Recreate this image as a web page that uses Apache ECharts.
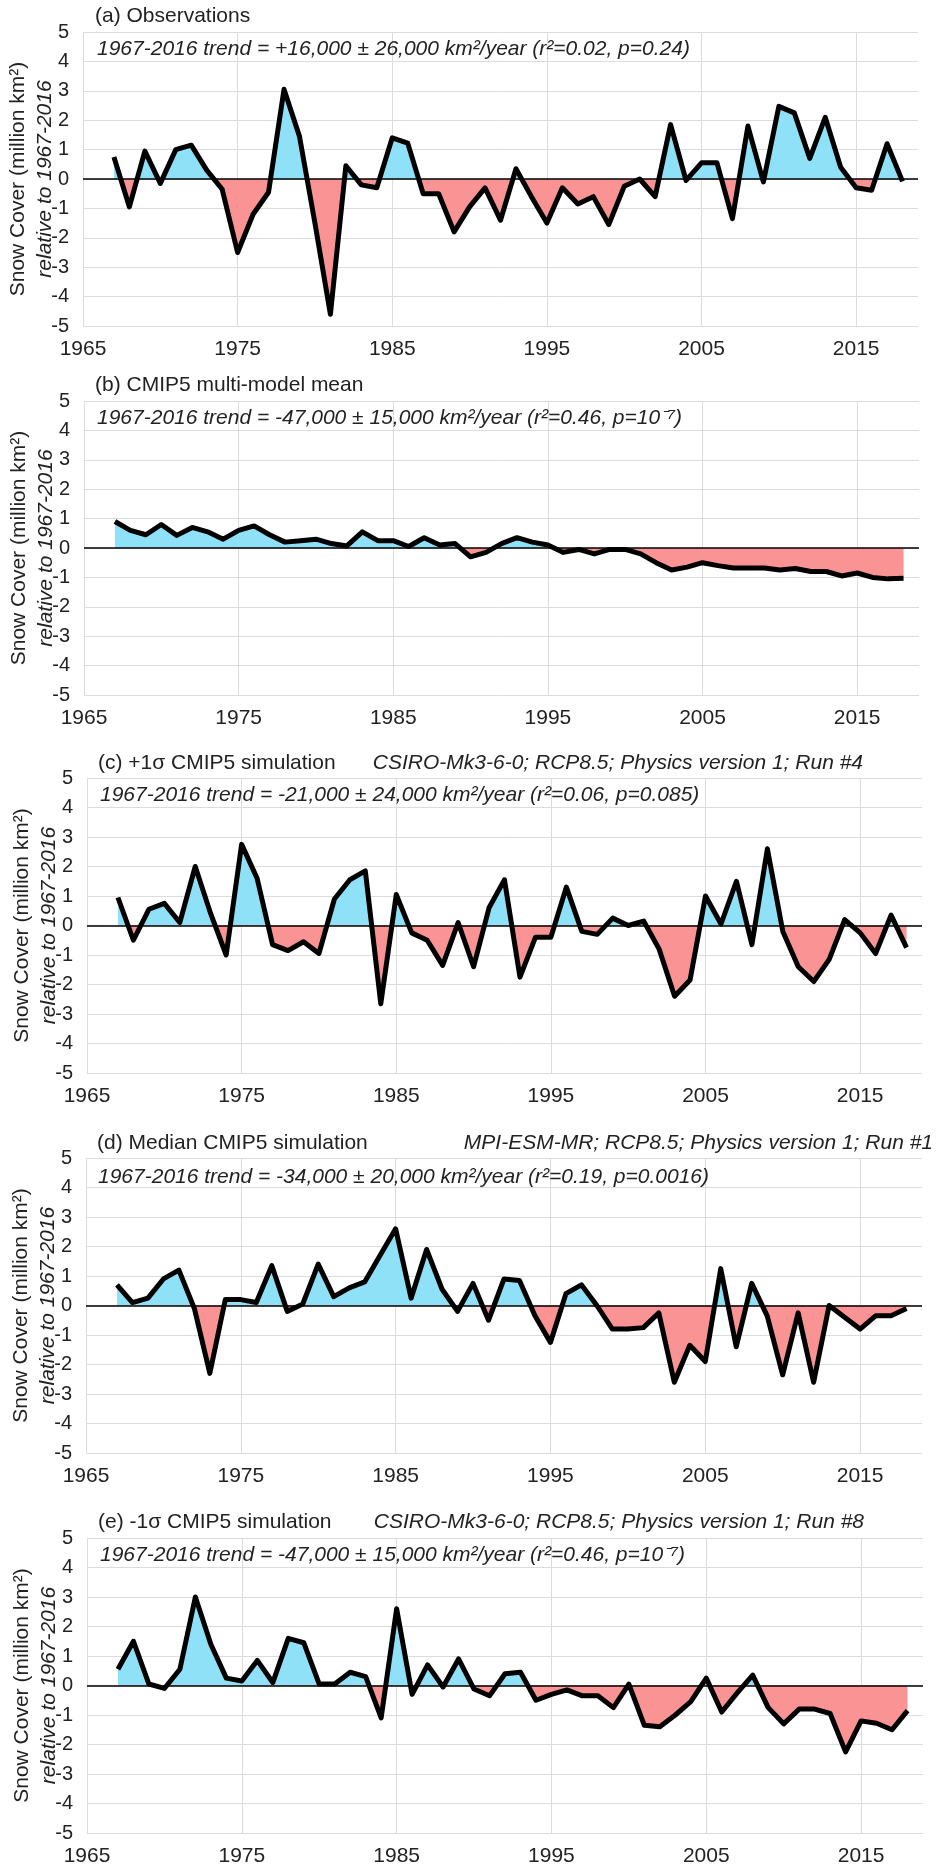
<!DOCTYPE html>
<html>
<head>
<meta charset="utf-8">
<script src="https://cdn.jsdelivr.net/npm/echarts@6/dist/echarts.min.js"></script>
<style>
html,body{margin:0;padding:0;background:#fff;}
#chart{width:938px;height:1868px;}
</style>
</head>
<body>
<div id="chart"></div>
<script>
var years = [1967,1968,1969,1970,1971,1972,1973,1974,1975,1976,1977,1978,1979,1980,1981,1982,1983,1984,1985,1986,1987,1988,1989,1990,1991,1992,1993,1994,1995,1996,1997,1998,1999,2000,2001,2002,2003,2004,2005,2006,2007,2008,2009,2010,2011,2012,2013,2014,2015,2016,2017,2018];

var observations = [0.75,-0.95,0.95,-0.15,1.0,1.15,0.3,-0.35,-2.5,-1.2,
  -0.45,3.05,1.45,-1.5,-4.6,0.45,-0.2,-0.3,1.4,1.22,
  -0.5,-0.5,-1.8,-0.95,-0.3,-1.4,0.35,-0.6,-1.5,-0.3,
  -0.85,-0.6,-1.55,-0.25,0.0,-0.6,1.85,-0.05,0.55,0.55,
  -1.35,1.8,-0.1,2.47,2.25,0.7,2.1,0.4,-0.3,-0.38,
  1.2,-0.08];

var multiModelMean = [0.9,0.6,0.45,0.8,0.43,0.7,0.55,0.3,0.6,0.75,
  0.45,0.2,0.25,0.3,0.15,0.07,0.55,0.25,0.25,0.05,
  0.35,0.1,0.15,-0.3,-0.15,0.15,0.35,0.2,0.1,-0.15,
  -0.05,-0.2,-0.05,-0.05,-0.2,-0.5,-0.75,-0.65,-0.5,-0.6,
  -0.68,-0.68,-0.68,-0.75,-0.7,-0.8,-0.8,-0.95,-0.85,-1.0,
  -1.05,-1.03];

var plusOneSigma = [0.95,-0.5,0.55,0.75,0.1,2.0,0.4,-1.0,2.75,1.6,
  -0.65,-0.85,-0.55,-0.95,0.9,1.55,1.85,-2.65,1.05,-0.25,
  -0.5,-1.35,0.1,-1.4,0.6,1.55,-1.75,-0.4,-0.4,1.3,
  -0.2,-0.3,0.25,0.0,0.15,-0.8,-2.4,-1.85,1.0,0.05,
  1.5,-0.65,2.6,-0.2,-1.4,-1.9,-1.15,0.2,-0.25,-0.95,
  0.35,-0.75];

var medianSim = [0.7,0.1,0.25,0.9,1.2,-0.1,-2.3,0.2,0.2,0.1,
  1.35,-0.2,0.05,1.4,0.3,0.6,0.8,1.7,2.6,0.25,
  1.9,0.55,-0.2,0.75,-0.5,0.9,0.85,-0.35,-1.25,0.4,
  0.7,0.0,-0.8,-0.8,-0.75,-0.25,-2.6,-1.35,-1.9,1.25,
  -1.4,0.75,-0.35,-2.35,-0.25,-2.6,0.0,-0.4,-0.8,-0.35,
  -0.35,-0.1];

var minusOneSigma = [0.55,1.5,0.05,-0.1,0.55,3.0,1.4,0.25,0.15,0.85,
  0.1,1.6,1.45,0.05,0.05,0.45,0.3,-1.1,2.6,-0.3,
  0.7,-0.05,0.9,-0.12,-0.35,0.4,0.45,-0.5,-0.3,-0.15,
  -0.35,-0.35,-0.75,0.05,-1.35,-1.4,-1.0,-0.55,0.25,-0.9,
  -0.25,0.35,-0.75,-1.3,-0.8,-0.8,-0.95,-2.25,-1.2,-1.28,
  -1.5,-0.85];

var yTicks = [-5,-4,-3,-2,-1,0,1,2,3,4,5];
var xTickYears = [1965,1975,1985,1995,2005,2015];

var panelTitles = ['(a) Observations','(b) CMIP5 multi-model mean','(c) +1\u03c3 CMIP5 simulation','(d) Median CMIP5 simulation','(e) -1\u03c3 CMIP5 simulation'];
var modelNames = ['','','CSIRO-Mk3-6-0; RCP8.5; Physics version 1; Run #4','MPI-ESM-MR; RCP8.5; Physics version 1; Run #1','CSIRO-Mk3-6-0; RCP8.5; Physics version 1; Run #8'];
var trendTexts = [
  '1967-2016 trend = +16,000 \u00b1 26,000 km\u00b2/year (r\u00b2=0.02, p=0.24)',
  '1967-2016 trend = -47,000 \u00b1 15,000 km\u00b2/year (r\u00b2=0.46, p=10\u207b\u2077)',
  '1967-2016 trend = -21,000 \u00b1 24,000 km\u00b2/year (r\u00b2=0.06, p=0.085)',
  '1967-2016 trend = -34,000 \u00b1 20,000 km\u00b2/year (r\u00b2=0.19, p=0.0016)',
  '1967-2016 trend = -47,000 \u00b1 15,000 km\u00b2/year (r\u00b2=0.46, p=10\u207b\u2077)'
];
var seriesList = [observations, multiModelMean, plusOneSigma, medianSim, minusOneSigma];

// layout (pixels)
var grids = [
  {left:83, right:20, top:32, bottom:326},
  {left:84, right:19, top:401, bottom:695},
  {left:87, right:16, top:778, bottom:1073},
  {left:86, right:16, top:1158, bottom:1453},
  {left:87, right:15, top:1538, bottom:1833}
];
var titlePos = [{x:95,y:16},{x:95,y:385},{x:98,y:763},{x:97,y:1143},{x:98,y:1522}];
var modelRight = [0,0,863,933,864];
var trendPos = [{x:97,y:49},{x:97,y:418},{x:100,y:795},{x:98,y:1177},{x:100,y:1555}];

var BLUE = '#8FE1F7';
var RED = '#FA9393';
var FONT = '"Liberation Sans", Arial, sans-serif';
var TXT = '#222';
var FS = 21;

var option = {
  backgroundColor:'#fff',
  animation:false,
  grid:[], xAxis:[], yAxis:[], series:[], graphic:[],
  visualMap:[{
    type:'piecewise', show:false, dimension:1,
    seriesIndex:[0,2,4,6,8],
    pieces:[{min:-50, max:0, color:RED},{min:0, max:50, color:BLUE}],
    outOfRange:{color:'#000'}
  }]
};

for (var i=0;i<5;i++){
  var g = grids[i];
  option.grid.push({left:g.left, width:938-g.left-g.right, top:g.top, height:g.bottom-g.top, containLabel:false});
  option.xAxis.push({
    type:'value', gridIndex:i, min:1965, max:2019, interval:10,
    axisLine:{show:false}, axisTick:{show:false},
    axisLabel:{fontSize:FS, color:TXT, fontFamily:FONT, margin:13, showMaxLabel:false,
      formatter:function(v){ return xTickYears.indexOf(v)>=0 ? String(v) : ''; }},
    splitLine:{show:true, showMaxLine:false, lineStyle:{color:'#dcdcdc', width:1}}
  });
  option.yAxis.push({
    type:'value', gridIndex:i, min:yTicks[0], max:yTicks[yTicks.length-1], interval:1,
    axisLine:{show:false}, axisTick:{show:false},
    axisLabel:{fontSize:20, color:TXT, fontFamily:FONT, margin:14},
    splitLine:{show:true, lineStyle:{color:'#dcdcdc', width:1}}
  });
  var pts = years.map(function(y,k){ return [y, seriesList[i][k]]; });
  option.series.push({
    type:'line', xAxisIndex:i, yAxisIndex:i, data:pts, symbol:'none', silent:true,
    lineStyle:{width:0, opacity:0}, areaStyle:{opacity:1}, z:1
  });
  option.series.push({
    type:'line', xAxisIndex:i, yAxisIndex:i, data:pts, symbol:'none', silent:true,
    color:'#000',
    lineStyle:{color:'#000', width:5, join:'round'}, z:3,
    markLine:{silent:true, symbol:['none','none'], label:{show:false},
      lineStyle:{color:'#000', width:1.5, type:'solid'}, data:[{yAxis:0}]}
  });
  option.graphic.push({type:'text', x:titlePos[i].x, y:titlePos[i].y, silent:true,
    style:{text:panelTitles[i], fontSize:FS, fontFamily:FONT, fill:TXT, align:'left', verticalAlign:'middle'}});
  if (modelNames[i]) {
    option.graphic.push({type:'text', x:modelRight[i], y:titlePos[i].y, silent:true,
      style:{text:modelNames[i], fontSize:FS, fontStyle:'italic', fontFamily:FONT, fill:TXT, align:'right', verticalAlign:'middle'}});
  }
  option.graphic.push({type:'text', x:trendPos[i].x, y:trendPos[i].y, silent:true, z:10,
    style:{text:trendTexts[i], fontSize:FS, fontStyle:'italic', fontFamily:FONT, fill:TXT, align:'left', verticalAlign:'middle'}});
  var cy = (g.top+g.bottom)/2;
  option.graphic.push({type:'text', x:g.left-65, y:cy, rotation:Math.PI/2, silent:true,
    style:{text:'Snow Cover (million km\u00b2)', fontSize:FS, fontFamily:FONT, fill:TXT, align:'center', verticalAlign:'middle'}});
  option.graphic.push({type:'text', x:g.left-38, y:cy, rotation:Math.PI/2, silent:true,
    style:{text:'relative to 1967-2016', fontSize:FS, fontStyle:'italic', fontFamily:FONT, fill:TXT, align:'center', verticalAlign:'middle'}});
}

var chart = echarts.init(document.getElementById('chart'), null, {renderer:'canvas'});
chart.setOption(option);
</script>
</body>
</html>
